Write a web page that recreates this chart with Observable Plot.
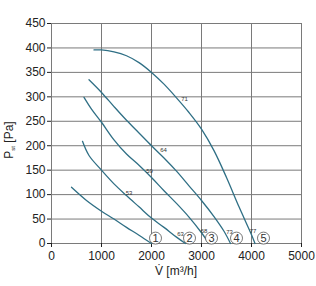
<!DOCTYPE html>
<html><head><meta charset="utf-8">
<script src="https://cdn.jsdelivr.net/npm/d3@7"></script>
<script src="https://cdn.jsdelivr.net/npm/@observablehq/plot@0.6"></script>
<style>body{margin:0;background:#fff;font-family:"Liberation Sans",Arial,sans-serif}</style>
</head><body><div id="chart"></div>
<script>
const curve1 = [[400,115],[700,88],[1000,66],[1250,50],[1500,33],[1750,17],[2000,0]];
const curve2 = [[620,209],[750,180],[1000,150],[1250,122],[1500,98],[1750,75],[2000,52],[2250,33],[2500,13],[2680,0]];
const curve3 = [[650,299],[800,275],[1000,248],[1250,212],[1500,183],[1750,160],[2000,135],[2250,108],[2500,82],[2750,54],[3000,22],[3150,0]];
const curve4 = [[750,335],[1000,309],[1250,280],[1500,252],[1750,226],[2000,200],[2250,175],[2500,148],[2750,118],[3000,88],[3250,55],[3450,25],[3580,0]];
const curve5 = [[850,396],[1000,396],[1250,392],[1500,384],[1750,370],[2000,350],[2250,326],[2500,298],[2750,268],[3000,234],[3250,190],[3500,135],[3750,75],[4000,18],[4070,0]];
const curves = [curve1, curve2, curve3, curve4, curve5];

const inlineLabels = ["53","59","64","71"];
const inlineLabelPos = [[1550,104],[1960,149],[2240,192],[2660,295]];
const endLabels = ["63","68","73","77"];
const endLabelPos = [[2580,19],[3050,25],[3560,23],[4030,25]];
const circleLabels = ["1","2","3","4","5"];
const circlePos = [[2080,11],[2760,11],[3200,11],[3700,11],[4240,11]];

const xTicks = [0,1000,2000,3000,4000,5000];
const yTicks = [0,50,100,150,200,250,300,350,400,450];

const lineData = curves.flatMap((c,i)=>c.map(([v,p])=>({v,p,s:i})));
const mk = (labels,pos)=>labels.map((t,i)=>({t,v:pos[i][0],p:pos[i][1]}));

const color = "#2f6f85";
const plot = Plot.plot({
  width:316, height:286,
  marginLeft:51, marginRight:15, marginTop:23, marginBottom:43,
  style:{fontFamily:"'Liberation Sans',Arial,sans-serif", fontSize:"12px", color:"#222", background:"#fff"},
  x:{domain:[0,5000], label:null},
  y:{domain:[0,450], label:null},
  marks:[
    Plot.gridX(xTicks,{stroke:"#7a7a7a", strokeOpacity:1, strokeWidth:1}),
    Plot.gridY(yTicks,{stroke:"#7a7a7a", strokeOpacity:1, strokeWidth:1}),
    Plot.axisX({ticks:xTicks, tickSize:4, tickPadding:4, fontSize:12, tickFormat:d=>String(d)}),
    Plot.axisY({ticks:yTicks, tickSize:4, tickPadding:2, fontSize:12, tickFormat:d=>String(d)}),
    Plot.line(lineData,{x:"v", y:"p", z:"s", curve:"catmull-rom", stroke:color, strokeWidth:1.3}),
    Plot.text(mk(inlineLabels,inlineLabelPos),{x:"v", y:"p", text:"t", fontSize:6, fill:"#333"}),
    Plot.text(mk(endLabels,endLabelPos),{x:"v", y:"p", text:"t", fontSize:6, fill:"#333"}),
    Plot.dot(mk(circleLabels,circlePos),{x:"v", y:"p", r:6, fill:"#fff", stroke:"#555", strokeWidth:0.8}),
    Plot.text(mk(circleLabels,circlePos),{x:"v", y:"p", text:"t", fontSize:11, fill:"#333", dy:0.5})
  ]
});
const svg = d3.select(plot);
const yl = svg.append("text").attr("transform","translate(13,140) rotate(-90)")
  .attr("text-anchor","middle").attr("font-size",12).attr("fill","#222");
yl.append("tspan").text("P");
yl.append("tspan").attr("font-size",6).attr("dy",2).text("st");
yl.append("tspan").attr("dy",-2).text(" [Pa]");
svg.append("text").attr("x",176).attr("y",275).attr("text-anchor","middle")
  .attr("font-size",12).attr("fill","#222").text("V\u0307 [m\u00b3/h]");
document.getElementById("chart").append(plot);
</script></body></html>
